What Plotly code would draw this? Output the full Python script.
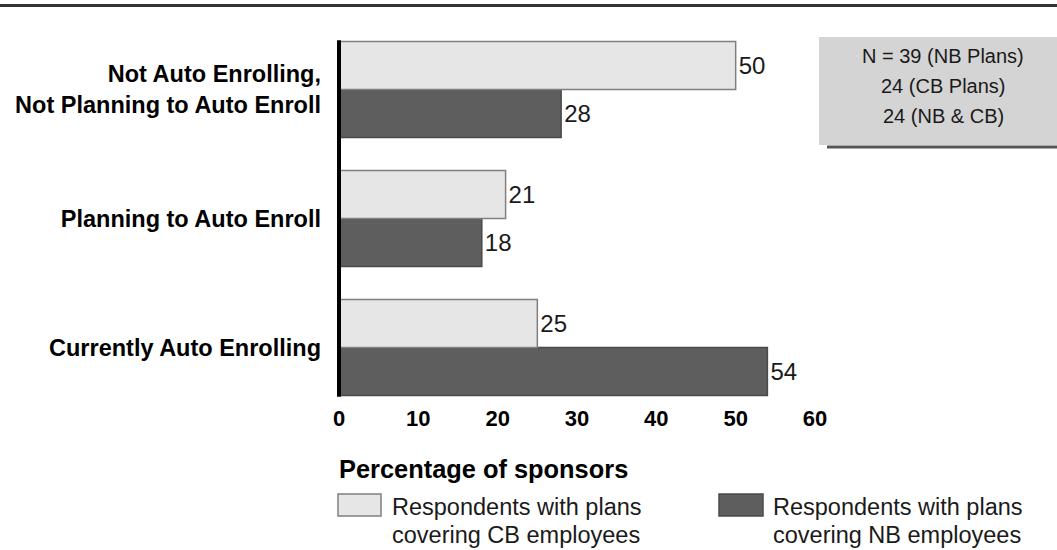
import plotly.graph_objects as go

# ---- data ----
categories = ["Currently Auto Enrolling", "Planning to Auto Enroll",
              "Not Auto Enrolling,<br>Not Planning to Auto Enroll"]
cb_values = [25, 21, 50]
nb_values = [54, 18, 28]
series_names = ["Respondents with plans<br>covering CB employees",
                "Respondents with plans<br>covering NB employees"]
x_ticks = [0, 10, 20, 30, 40, 50, 60]
n_lines = ["N = 39 (NB Plans)", "24 (CB Plans)", "24 (NB & CB)"]
axis_title = "Percentage of sponsors"

# ---- layout constants ----
W, H = 1057, 550
ML, MR, MT, MB = 339, 242, 25, 147
PW, PH = W - ML - MR, H - MT - MB
FONT = "Liberation Sans, Arial, Helvetica, sans-serif"
LIGHT, LIGHT_LINE = "#e6e6e6", "#808080"
DARK, DARK_LINE = "#5e5e5e", "#4a4a4a"
BARGAP = 0.255


def px(x):
    return (x - ML) / PW


def py(y):
    return (H - MB - y) / PH


fig = go.Figure()
fig.add_trace(go.Bar(
    y=categories, x=nb_values, orientation="h", name=series_names[1],
    marker=dict(color=DARK, line=dict(color=DARK_LINE, width=1.5)),
    text=nb_values, textposition="outside", cliponaxis=False,
    textfont=dict(size=24, color="#1a1a1a", family=FONT),
    showlegend=False))
fig.add_trace(go.Bar(
    y=categories, x=cb_values, orientation="h", name=series_names[0],
    marker=dict(color=LIGHT, line=dict(color=LIGHT_LINE, width=1.5)),
    text=cb_values, textposition="outside", cliponaxis=False,
    textfont=dict(size=24, color="#1a1a1a", family=FONT),
    showlegend=False))

shapes = []
half = (1 - BARGAP) / 2
# zero axis line (paper x so it is not clipped by the plot area)
shapes.append(dict(type="line", xref="paper", yref="y", x0=0, x1=0,
                   y0=-half - 0.01, y1=len(categories) - 1 + half + 0.01,
                   line=dict(color="black", width=4), layer="above"))
# top rule
shapes.append(dict(type="line", xref="paper", yref="paper",
                   x0=px(0), x1=px(W), y0=py(5.5), y1=py(5.5),
                   line=dict(color="#333333", width=3)))
# N box
shapes.append(dict(type="rect", xref="paper", yref="paper",
                   x0=px(819), x1=px(1062), y0=py(145), y1=py(37),
                   fillcolor="#d4d4d4", line=dict(width=0)))
shapes.append(dict(type="line", xref="paper", yref="paper",
                   x0=px(827), x1=px(1060), y0=py(147), y1=py(147),
                   line=dict(color="#555555", width=3)))
# legend swatches
shapes.append(dict(type="rect", xref="paper", yref="paper",
                   x0=px(338), x1=px(381), y0=py(516), y1=py(494),
                   fillcolor=LIGHT, line=dict(color=LIGHT_LINE, width=1.5)))
shapes.append(dict(type="rect", xref="paper", yref="paper",
                   x0=px(719), x1=px(763), y0=py(516), y1=py(494),
                   fillcolor=DARK, line=dict(color=DARK_LINE, width=1.5)))

annotations = []
for i, t in enumerate(n_lines):
    annotations.append(dict(xref="paper", yref="paper", x=px(943), y=py(56 + 30 * i),
                            text=t, showarrow=False, xanchor="center", yanchor="middle",
                            font=dict(size=20, color="#1a1a1a", family=FONT)))
annotations.append(dict(xref="paper", yref="paper", x=px(337), y=py(469),
                        text="<b>" + axis_title + "</b>", showarrow=False,
                        xanchor="left", yanchor="middle",
                        font=dict(size=25.4, color="black", family=FONT)))
for name, x0 in ((series_names[0], 390), (series_names[1], 771)):
    for j, line in enumerate(name.split("<br>")):
        annotations.append(dict(xref="paper", yref="paper", x=px(x0), y=py(507 + 28 * j),
                                text=line, showarrow=False, align="left",
                                xanchor="left", yanchor="middle",
                                font=dict(size=23.5, color="#1a1a1a", family=FONT)))

fig.update_layout(
    width=W, height=H,
    margin=dict(l=ML, r=MR, t=MT, b=MB),
    paper_bgcolor="white", plot_bgcolor="white",
    barmode="group", bargap=BARGAP, bargroupgap=0,
    showlegend=False,
    shapes=shapes, annotations=annotations,
    xaxis=dict(range=[0, 60], tickvals=x_ticks, showgrid=False, zeroline=False,
               showline=False, ticks="",
               tickfont=dict(size=22, color="black", family=FONT, weight="bold")),
    yaxis=dict(range=[-0.43, 2.5], showgrid=False, zeroline=False, showline=False,
               ticks="", ticklabelstandoff=17,
               tickfont=dict(size=23.5, color="black", family=FONT, weight="bold")),
)

fig.write_html("out.html", config={"displayModeBar": False},
               post_script="document.body.style.margin='0';document.body.style.padding='0';")
